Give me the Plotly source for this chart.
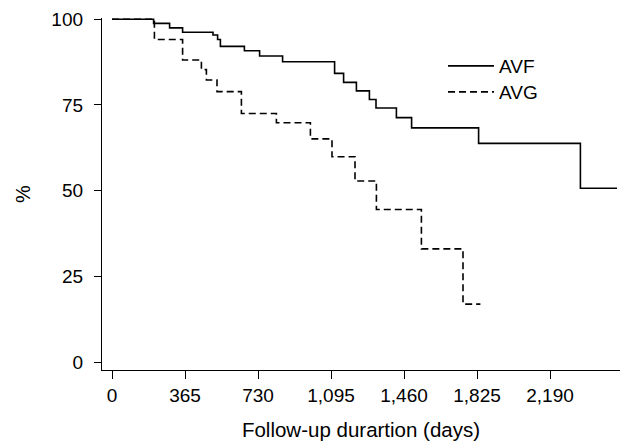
import plotly.graph_objects as go

# Kaplan-Meier style step data
avf_days = [0, 208, 288, 353, 505, 528, 542, 662, 738, 853, 1113, 1158, 1222, 1287, 1320, 1422, 1498, 1833, 2342, 2525]
avf_pct = [100, 98.8, 97.5, 96.2, 95.4, 94.1, 92.1, 90.8, 89.3, 87.6, 84.2, 81.6, 79.1, 76.6, 74.1, 71.3, 68.3, 63.8, 50.7, 50.7]

avg_days = [0, 212, 353, 447, 472, 525, 647, 822, 992, 1100, 1215, 1322, 1547, 1755, 1842]
avg_pct = [100, 94.1, 88.1, 85.3, 82.3, 78.9, 72.5, 69.8, 65.1, 59.9, 52.8, 44.5, 33.0, 16.9, 16.9]

x_ticks = [0, 365, 730, 1095, 1460, 1825, 2190]
x_ticklabels = ["0", "365", "730", "1,095", "1,460", "1,825", "2,190"]
y_ticks = [0, 25, 50, 75, 100]

FONT = "Liberation Sans, Arial, sans-serif"
PLOT_TOP, PLOT_H = 18, 352


def legend_y(top_px):
    return 1 - (top_px - PLOT_TOP) / PLOT_H


fig = go.Figure()
fig.add_trace(go.Scatter(x=avf_days, y=avf_pct, mode="lines", name="AVF", legend="legend",
                         line=dict(color="black", width=1.6, shape="hv")))
fig.add_trace(go.Scatter(x=avg_days, y=avg_pct, mode="lines", name="AVG", legend="legend2",
                         line=dict(color="black", width=1.6, shape="hv", dash="7px,4px")))

leg_common = dict(xanchor="left", yanchor="top", bgcolor="rgba(0,0,0,0)", borderwidth=0,
                  itemwidth=46, font=dict(family=FONT, size=19, color="black"))

fig.update_layout(
    width=622, height=441,
    margin=dict(l=102, r=2, t=PLOT_TOP, b=71),
    paper_bgcolor="white", plot_bgcolor="white",
    font=dict(family=FONT, size=19, color="black"),
    showlegend=True,
    legend=dict(x=(443 - 102) / 518, y=legend_y(47), **leg_common),
    legend2=dict(x=(443 - 102) / 518, y=legend_y(73), **leg_common),
    xaxis=dict(range=[-50, 2540], tickvals=x_ticks, ticktext=x_ticklabels,
               showline=True, linecolor="black", linewidth=1.3,
               ticks="outside", ticklen=8, tickwidth=1.3, tickcolor="black",
               showgrid=False, zeroline=False,
               title=dict(text="Follow-up durartion (days)", font=dict(size=20.5), standoff=17)),
    yaxis=dict(range=[-2.33, 100.37], tickvals=y_ticks,
               showline=True, linecolor="black", linewidth=1.3,
               ticks="outside", ticklen=7, tickwidth=1.3, tickcolor="black",
               ticklabelstandoff=7,
               showgrid=False, zeroline=False,
               title=dict(text="%", font=dict(size=20), standoff=15)),
)

fig.write_html("out.html", config={"displayModeBar": False},
               post_script="document.body.style.margin='0';")
